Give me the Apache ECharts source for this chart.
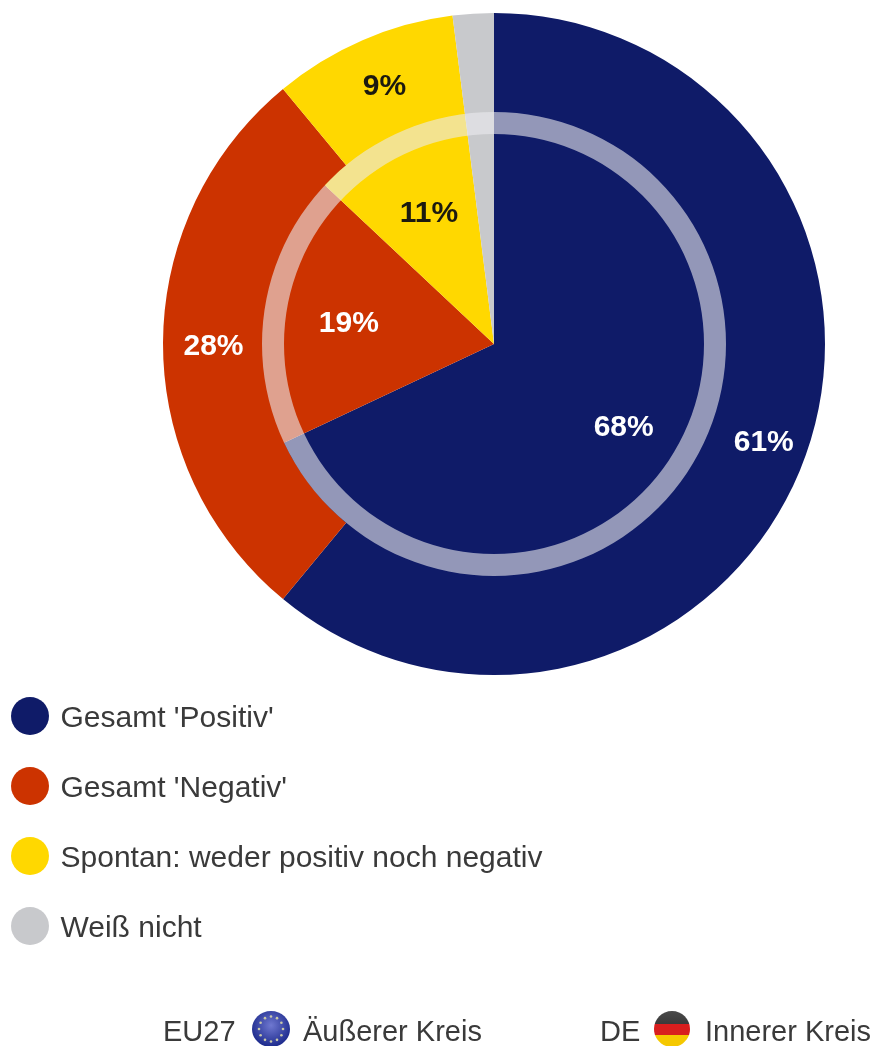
<!DOCTYPE html>
<html lang="de">
<head>
<meta charset="utf-8">
<title>EU27 und DE</title>
<style>
html, body { margin: 0; padding: 0; background: #fff; }
#chart { width: 881px; height: 1046px; }
</style>
<script src="https://cdn.jsdelivr.net/npm/echarts@6/dist/echarts.min.js"></script>
</head>
<body>
<div id="chart"></div>
<script>
// Antwortkategorien und Anteile in Prozent
const categories = ["Gesamt 'Positiv'", "Gesamt 'Negativ'", 'Spontan: weder positiv noch negativ', 'Weiß nicht'];
const colors = ['#0f1b68', '#cc3300', '#ffd800', '#c8c9cc'];
const textColors = ['#ffffff', '#ffffff', '#1c1a10', '#1c1a10'];
const eu27Values = [61, 28, 9, 2];
const deValues = [68, 19, 11, 2];
const unlabelled = 'Weiß nicht';

const center = [494, 344];
const labelFont = 'Liberation Sans';

function slices(values, withLabels) {
  return categories.map((name, i) => ({
    name,
    value: values[i],
    itemStyle: { color: withLabels === 'only' ? 'transparent' : colors[i] },
    label: {
      show: withLabels !== false && name !== unlabelled,
      color: textColors[i]
    }
  }));
}

function pieSeries(name, radius, data) {
  return {
    type: 'pie',
    name,
    center,
    radius,
    startAngle: 90,
    clockwise: true,
    silent: true,
    animation: false,
    avoidLabelOverlap: false,
    data,
    label: {
      position: 'inside',
      formatter: '{c}%',
      fontFamily: labelFont,
      fontWeight: 'bold',
      fontSize: 30,
      offset: [3, 3]
    },
    labelLine: { show: false }
  };
}

// Kleine Flaggen für die Kreis-Legende am unteren Rand
const euStars = Array.from({ length: 12 }, (_, i) => {
  const a = i * Math.PI / 6;
  return {
    type: 'circle',
    shape: { cx: 271 + 12 * Math.cos(a), cy: 1029 + 12.5 * Math.sin(a), r: 1.3 },
    style: { fill: '#c8c8a8' }
  };
});

const footerText = (text, x) => ({
  type: 'text',
  x,
  y: 1033,
  style: {
    text,
    fill: '#3a3a3a',
    font: '29px "Liberation Sans"',
    textVerticalAlign: 'middle'
  }
});

const chart = echarts.init(document.getElementById('chart'), null, { renderer: 'canvas' });
chart.setOption({
  animation: false,
  backgroundColor: '#ffffff',
  legend: {
    orient: 'vertical',
    left: 6,
    top: 692,
    data: categories,
    icon: 'circle',
    itemWidth: 39,
    itemHeight: 38,
    itemGap: 32,
    selectedMode: false,
    formatter: (name) => `{entry|${name}}`,
    textStyle: {
      rich: {
        entry: {
          color: '#3a3a3a',
          fontFamily: labelFont,
          fontSize: 30,
          padding: [6, 0, 0, 6]
        }
      }
    }
  },
  series: [
    pieSeries('EU27', [230, 331], slices(eu27Values, true)),
    pieSeries('DE', [0, 232], slices(deValues, false)),
    pieSeries('DE Beschriftung', [62, 232], slices(deValues, 'only')),
    {
      // Halbtransparenter Ring zwischen innerem und äußerem Kreis
      type: 'pie',
      name: 'Ring',
      center,
      radius: [210, 232],
      silent: true,
      animation: false,
      label: { show: false },
      labelLine: { show: false },
      data: [{ name: 'Ring', value: 1, itemStyle: { color: 'rgba(235,235,238,0.6)' } }]
    }
  ],
  graphic: [
    footerText('EU27', 163),
    {
      type: 'ellipse',
      shape: { cx: 271, cy: 1029, rx: 19, ry: 18 },
      style: {
        fill: new echarts.graphic.RadialGradient(0.5, 0.4, 0.6, [
          { offset: 0, color: '#6f78d0' },
          { offset: 1, color: '#1c2a8c' }
        ])
      }
    },
    ...euStars,
    footerText('Äußerer Kreis', 303),
    footerText('DE', 600),
    {
      type: 'ellipse',
      shape: { cx: 672, cy: 1029, rx: 18, ry: 18 },
      style: {
        fill: new echarts.graphic.LinearGradient(0, 0, 0, 1, [
          { offset: 0, color: '#4a4a4a' },
          { offset: 0.36, color: '#3a3a3a' },
          { offset: 0.36, color: '#d81e1e' },
          { offset: 0.68, color: '#d81e1e' },
          { offset: 0.68, color: '#f5c800' },
          { offset: 1, color: '#f5c800' }
        ])
      }
    },
    footerText('Innerer Kreis', 705)
  ]
});
</script>
</body>
</html>
